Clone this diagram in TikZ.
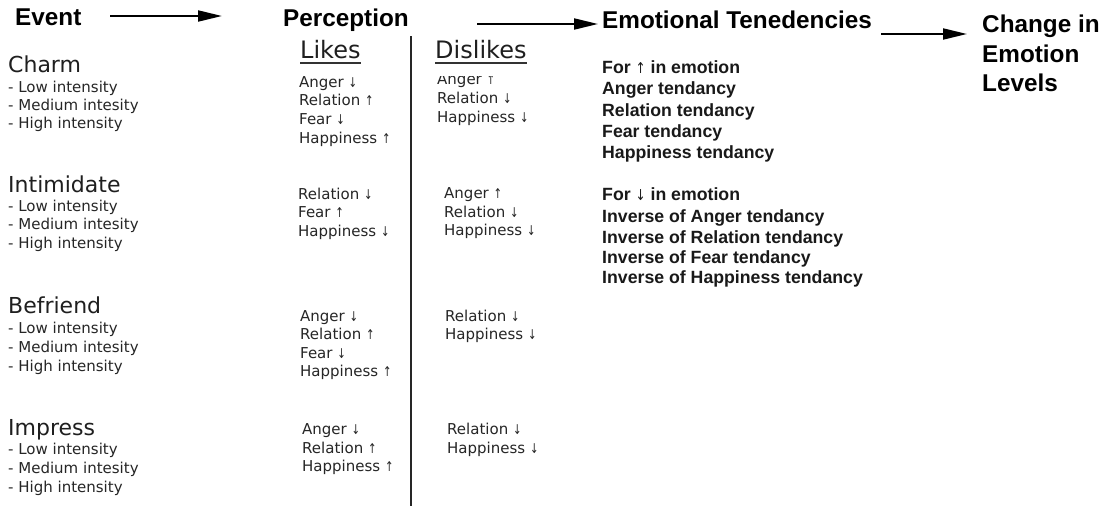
\documentclass[tikz,border=0pt]{standalone}
\usepackage{fontspec}
\setmainfont{DejaVu Sans}
\newfontfamily\hfont{Liberation Sans}
\usetikzlibrary{arrows.meta}
\newcommand{\upar}{\scalebox{0.75}[1]{\fontsize{13.5}{13.5}\selectfont ↑}}
\newcommand{\dnar}{\scalebox{0.75}[1]{\fontsize{13.5}{13.5}\selectfont ↓}}
\tikzset{
  head/.style={inner sep=0, anchor=base west, text=black, font=\hfont\bfseries\fontsize{24.3}{29}\selectfont},
  evt/.style={inner sep=0, anchor=base west, text=black!88, font=\fontsize{22}{26}\selectfont},
  item/.style={inner sep=0, anchor=base west, text=black!85, font=\fontsize{15}{18}\selectfont},
  col/.style={inner sep=0, anchor=base west, text=black!88, font=\fontsize{24}{28}\selectfont},
  tend/.style={inner sep=0, anchor=base west, text=black!90, font=\hfont\bfseries\fontsize{17.7}{21}\selectfont},
  flow/.style={line width=2pt, -{Triangle[length=24pt,width=11pt]}},
}
\begin{document}
\begin{tikzpicture}[x=1pt,y=-1pt]
\fill[white] (0,0) rectangle (1105,506);
\useasboundingbox (0,0) rectangle (1105,506);
% headings
\node[head] (event) at (15,25) {Event};
\node[head] (perc) at (283,27) {Perception};
\node[head] (emo) at (602,28) {Emotional Tenedencies};
\node[head] (chg1) at (982,32) {Change in};
\node[head] (chg2) at (982,62) {Emotion};
\node[head] (chg3) at (982,91) {Levels};
% arrows
\coordinate (a1s) at (110,16); \coordinate (a1e) at (222,16);
\coordinate (a2s) at (477,24); \coordinate (a2e) at (598,24);
\coordinate (a3s) at (881,34); \coordinate (a3e) at (967,34);
\draw[flow] (a1s) -- (a1e);
\draw[flow] (a2s) -- (a2e);
\draw[flow] (a3s) -- (a3e);
% likes / dislikes
\node[col] (likes) at (300,58) {Likes};
\node[col] (dislikes) at (435,58) {Dislikes};
\draw[line width=1.3pt, black!80] (likes.base west) ++(0,5) coordinate (lu1) -- (lu1 -| likes.base east);
\draw[line width=1.3pt, black!80] (dislikes.base west) ++(0,5) coordinate (du1) -- (du1 -| dislikes.base east);
\coordinate (vtop) at (411,36); \coordinate (vbot) at (411,506);
\draw[line width=2.4pt, black!85] (vtop) -- (vbot);
% events
\node[evt] (charm) at (8,72) {Charm};
\node[item] (c1) at (8,92) {- Low intensity};
\node[item] (c2) at (8,110) {- Medium intesity};
\node[item] (c3) at (8,128) {- High intensity};
\node[evt] (intim) at (8,192) {Intimidate};
\node[item] (i1) at (8,211) {- Low intensity};
\node[item] (i2) at (8,229) {- Medium intesity};
\node[item] (i3) at (8,248) {- High intensity};
\node[evt] (befr) at (8,313) {Befriend};
\node[item] (b1) at (8,333) {- Low intensity};
\node[item] (b2) at (8,352) {- Medium intesity};
\node[item] (b3) at (8,371) {- High intensity};
\node[evt] (impr) at (8,435) {Impress};
\node[item] (m1) at (8,454) {- Low intensity};
\node[item] (m2) at (8,473) {- Medium intesity};
\node[item] (m3) at (8,492) {- High intensity};
% likes column
\node[item] (lc1) at (299,87) {Anger \dnar};
\node[item] (lc2) at (299,105) {Relation \upar};
\node[item] (lc3) at (299,124) {Fear \dnar};
\node[item] (lc4) at (299,143) {Happiness \upar};
\node[item] (li1) at (298,199) {Relation \dnar};
\node[item] (li2) at (298,217) {Fear \upar};
\node[item] (li3) at (298,236) {Happiness \dnar};
\node[item] (lb1) at (300,321) {Anger \dnar};
\node[item] (lb2) at (300,339) {Relation \upar};
\node[item] (lb3) at (300,358) {Fear \dnar};
\node[item] (lb4) at (300,376) {Happiness \upar};
\node[item] (lm1) at (302,434) {Anger \dnar};
\node[item] (lm2) at (302,453) {Relation \upar};
\node[item] (lm3) at (302,471) {Happiness \upar};
% dislikes column
\begin{scope}
\clip (430,76) rectangle (560,96);
\node[item] (dc1) at (437,84) {Anger \upar};
\end{scope}
\node[item] (dc2) at (437,103) {Relation \dnar};
\node[item] (dc3) at (437,122) {Happiness \dnar};
\node[item] (di1) at (444,198) {Anger \upar};
\node[item] (di2) at (444,217) {Relation \dnar};
\node[item] (di3) at (444,235) {Happiness \dnar};
\node[item] (db1) at (445,321) {Relation \dnar};
\node[item] (db2) at (445,339) {Happiness \dnar};
\node[item] (dm1) at (447,434) {Relation \dnar};
\node[item] (dm2) at (447,453) {Happiness \dnar};
% tendencies
\node[tend] (t1) at (602,73) {For {\normalfont\scalebox{0.8}[1]{\fontsize{15}{15}\selectfont ↑}} in emotion};
\node[tend] (t2) at (602,94) {Anger tendancy};
\node[tend] (t3) at (602,116) {Relation tendancy};
\node[tend] (t4) at (602,137) {Fear tendancy};
\node[tend] (t5) at (602,158) {Happiness tendancy};
\node[tend] (s1) at (602,200) {For {\normalfont\scalebox{0.8}[1]{\fontsize{15}{15}\selectfont ↓}} in emotion};
\node[tend] (s2) at (602,222) {Inverse of Anger tendancy};
\node[tend] (s3) at (602,243) {Inverse of Relation tendancy};
\node[tend] (s4) at (602,263) {Inverse of Fear tendancy};
\node[tend] (s5) at (602,283) {Inverse of Happiness tendancy};
\end{tikzpicture}
\end{document}
